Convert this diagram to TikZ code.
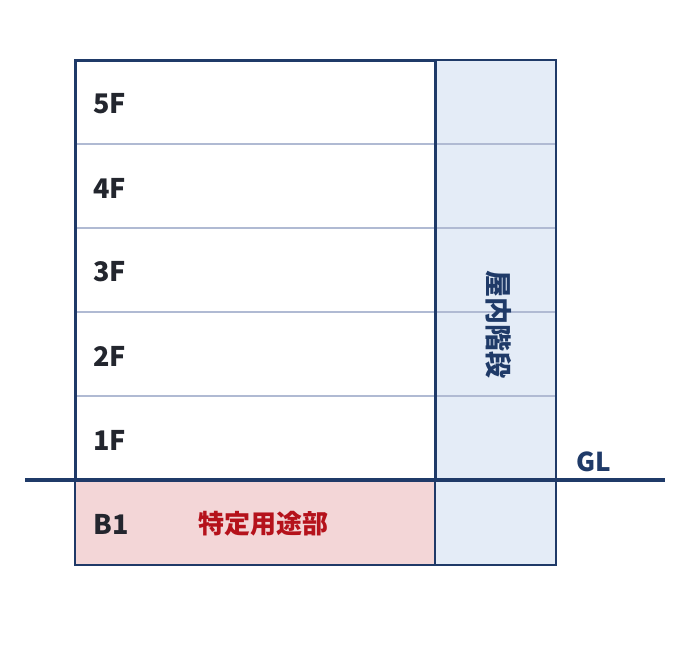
\documentclass[tikz,border=0pt]{standalone}
\usepackage{fontspec}
\setmainfont{Noto Sans CJK JP}
\usetikzlibrary{positioning}

\definecolor{navy}{HTML}{1F3A68}
\definecolor{divider}{HTML}{B0BAD3}
\definecolor{stairfill}{HTML}{E4ECF7}
\definecolor{basefill}{HTML}{F3D6D7}
\definecolor{usered}{HTML}{B5121B}
\definecolor{labelink}{HTML}{23262E}

\begin{document}
\begin{tikzpicture}[x=1pt,y=-1pt,
  floorlabel/.style={anchor=west,text=labelink,font=\bfseries\fontsize{27}{27}\selectfont},
  stairlabel/.style={text=navy,font=\bfseries\fontsize{27}{27}\selectfont,rotate=-90},
  uselabel/.style={text=usered,font=\bfseries\fontsize{26}{26}\selectfont}]
  \useasboundingbox (0,0) rectangle (690,645);

  % fills
  \fill[stairfill] (435,60) rectangle (556,565);
  \fill[basefill]  (75,480) rectangle (435,565);

  % floor lines
  \foreach \y in {144,228,312,396}
    \draw[divider,line width=2pt] (75,\y) -- (556,\y);

  % outlines
  \draw[navy,line width=2pt] (435,60) rectangle (556,565);
  \draw[navy,line width=2pt] (75,480) rectangle (435,565);
  \draw[navy,line width=3pt] (75,60) rectangle (435,480);

  % ground line
  \coordinate (gl-w) at (25,480);
  \coordinate (gl-e) at (665,480);
  \draw[navy,line width=4pt] (gl-w) -- (gl-e);
  \node[anchor=west,text=navy,font=\bfseries\fontsize{26}{26}\selectfont] (gl) at (573,462) {GL};

  % floor labels
  \foreach \n [count=\i] in {5,...,1}
    \node[floorlabel] (f\n) at (90,{60+84*(\i-1)+44}) {\n F};
  \node[floorlabel] (b1) at (90,524) {B1};
  \node[uselabel] (use) at (263,524) {特定用途部};

  % stair
  \node[stairlabel] (stair) at (499,324) {屋内階段};
\end{tikzpicture}
\end{document}
